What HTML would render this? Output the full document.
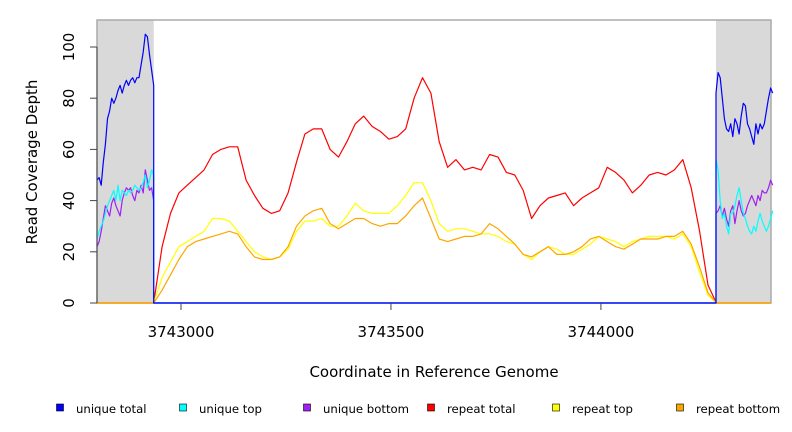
<!DOCTYPE html>
<html><head><meta charset="utf-8"><style>
body{margin:0;background:#fff;}
svg{display:block;font-family:"DejaVu Sans","Liberation Sans",sans-serif;}
</style></head><body>
<svg id="chart" width="792" height="432"></svg>
<script>
const xTicks=[3743000,3743500,3744000];
const yTicks=[0,20,40,60,80,100];
const leftMask=[3742800,3742935];
const rightMask=[3744274,3744405];
const mainStart=3742935, mainStep=20;
const repeatTotal=[0,22,35,43,46,49,52,58,60,61,61,48,42,37,35,36,43,55,66,68,68,60,57,63,70,73,69,67,64,65,68,80,88,82,63,53,56,52,53,52,58,57,51,50,44,33,38,41,42,43,38,41,43,45,53,51,48,43,46,50,51,50,52,56,45,28,7,0];
const repeatTop=[0,10,16,22,24,26,28,33,33,32,28,24,20,18,17,18,21,28,32,32,33,30,30,34,39,36,35,35,35,38,42,47,47,40,31,28,29,29,28,27,27,26,24,23,19,17,20,22,21,19,19,21,23,26,25,24,22,24,25,26,26,26,25,27,22,12,3,0];
const repeatBottom=[0,5,11,17,22,24,25,26,27,28,27,22,18,17,17,18,22,30,34,36,37,31,29,31,33,33,31,30,31,31,34,38,41,33,25,24,25,26,26,27,31,29,26,23,19,18,20,22,19,19,20,22,25,26,24,22,21,23,25,25,25,26,26,28,23,14,4,0];
const flankStep=5;
const uTotalL=[48,49,46,55,62,72,75,80,78,80,83,85,82,85,87,85,87,88,86,88,88,93,98,105,104,97,91,85];
const uTopL=[25,28,30,32,35,38,40,42,44,40,46,40,44,43,42,44,43,44,46,45,44,45,47,50,45,48,52,50];
const uBotL=[22,24,28,33,38,36,34,39,41,38,36,34,40,43,45,44,45,42,40,44,43,46,43,52,48,44,45,40];
const uTotalR=[82,90,88,80,72,68,67,70,65,72,70,66,73,78,77,70,68,65,62,70,66,70,68,70,75,80,84,82];
const uTopR=[56,52,40,33,35,30,27,35,35,38,42,45,40,35,33,30,28,27,30,28,32,35,32,30,28,30,33,36];
const uBotR=[35,36,38,34,37,33,30,36,38,31,36,40,36,34,35,38,40,42,40,38,42,40,44,43,43,45,48,46];

const X0=97,X1=771,Y0=303,Y1=20;
const dMin=3742800,dMax=3744405;
const sx=v=>X0+(v-dMin)/(dMax-dMin)*(X1-X0);
const sy=v=>Y0-v*2.56;
const svg=document.getElementById('chart');
const NS='http://www.w3.org/2000/svg';
function mk(t,a,p){const e=document.createElementNS(NS,t);for(const k in a)e.setAttribute(k,a[k]);(p||svg).appendChild(e);return e;}

let e;
e=mk('rect',{x:X0,y:Y1,width:X1-X0,height:Y0-Y1,fill:'#fff'});


e=mk('rect',{x:sx(leftMask[0]),y:Y1,width:sx(leftMask[1])-sx(leftMask[0]),height:Y0-Y1,fill:'#d9d9d9'});


e=mk('rect',{x:sx(rightMask[0]),y:Y1,width:X1-sx(rightMask[0]),height:Y0-Y1,fill:'#d9d9d9'});


e=mk('rect',{x:X0,y:Y1,width:X1-X0,height:Y0-Y1,fill:'none',stroke:'#aaa','stroke-width':1.5});



function series(pts,color,name){
  const d=pts.map((p,i)=>(i?'L':'M')+sx(p[0]).toFixed(1)+','+sy(p[1]).toFixed(1)).join(' ');
  const el=mk('path',{d:d,fill:'none',stroke:color,'stroke-width':1.2,'stroke-linejoin':'round'});
  
  
}
function arr(start,step,vals){return vals.map((v,i)=>[start+i*step,v]);}
function mainPts(vals){return [[dMin,0],[mainStart,0]].concat(arr(mainStart,mainStep,vals)).concat([[dMax,0]]);}
function uniquePts(l,r){
  const a=arr(leftMask[0],flankStep,l);const b=arr(rightMask[0],flankStep,r);
  return a.concat([[leftMask[1],0],[rightMask[0],0]]).concat(b);
}
series(mainPts(repeatTotal),'#ff0000','repeat-total-line');
series(mainPts(repeatTop),'#ffff00','repeat-top-line');
series(mainPts(repeatBottom),'#ffa500','repeat-bottom-line');
series(uniquePts(uBotL,uBotR),'#a020f0','unique-bottom-line');
series(uniquePts(uTopL,uTopR),'#00ffff','unique-top-line');
series(uniquePts(uTotalL,uTotalR),'#0000ff','unique-total-line');

e=mk('line',{x1:X0,y1:sy(0),x2:X0,y2:sy(100),stroke:'#444'});


yTicks.forEach(t=>{
  const l=mk('line',{x1:X0-7,x2:X0,y1:sy(t),y2:sy(t),stroke:'#444'});
  
  
  const tx=mk('text',{x:74,y:sy(t),'font-size':15,'text-anchor':'middle',transform:`rotate(-90 74 ${sy(t)})`});
  tx.textContent=t;
  
  
});
xTicks.forEach(t=>{
  const l=mk('line',{x1:sx(t),x2:sx(t),y1:Y0,y2:Y0+7,stroke:'#444'});
  
  
  const tx=mk('text',{x:sx(t),y:337,'font-size':15,'text-anchor':'middle'});
  tx.textContent=t;
  
  
});
e=mk('text',{x:434,y:377,'font-size':15,'text-anchor':'middle'});
e.textContent='Coordinate in Reference Genome';


e=mk('text',{x:37,y:162,'font-size':15,'text-anchor':'middle',transform:'rotate(-90 37 162)'});
e.textContent='Read Coverage Depth';



const legNames=['unique total','unique top','unique bottom','repeat total','repeat top','repeat bottom'];
const legColors=['#0000ff','#00ffff','#a020f0','#ff0000','#ffff00','#ffa500'];
const legX=[60,183,307,431,556,680];
legNames.forEach((n,i)=>{
  const g=mk('g',{});
  
  
  mk('rect',{x:legX[i]-3.5,y:404,width:7,height:7,fill:legColors[i],stroke:'#000','stroke-width':0.6},g);
  const t=mk('text',{x:legX[i]+16,y:413,'font-size':11.7},g);
  t.textContent=n;
});
</script>
</body></html>
